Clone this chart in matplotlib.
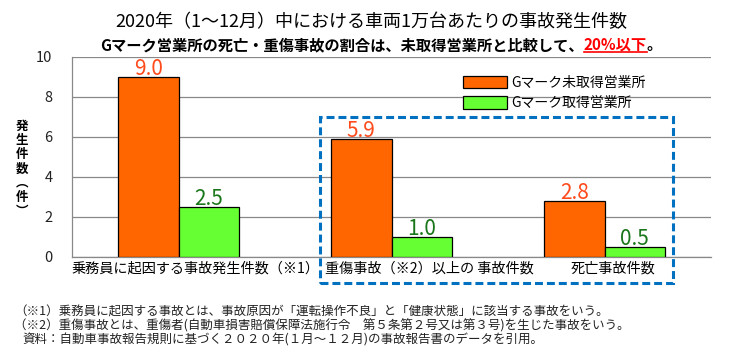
import matplotlib
matplotlib.use("Agg")
import numpy as np
import matplotlib.pyplot as plt
from matplotlib.patches import Rectangle
from matplotlib.lines import Line2D

plt.rcParams['font.family'] = ['Noto Sans CJK JP', 'DejaVu Sans']

## ===== Data ===== ##

categories = ["乗務員に起因する事故発生件数（※1）",
              "重傷事故（※2）以上の 事故件数",
              "死亡事故件数"]
no_gmark = [9.0, 5.9, 2.8]     # Gマーク未取得営業所
gmark = [2.5, 1.0, 0.5]        # Gマーク取得営業所
series_names = ["Gマーク未取得営業所", "Gマーク取得営業所"]
yticks = [0, 2, 4, 6, 8, 10]

title = "2020年（1～12月）中における車両1万台あたりの事故発生件数"
subtitle_a = "Gマーク営業所の死亡・重傷事故の割合は、未取得営業所と比較して、"
subtitle_b = "20%以下"
subtitle_c = "。"
ylabel = "発\n生\n件\n数\n︵\n件\n︶"
notes = ["（※1）乗務員に起因する事故とは、事故原因が「運転操作不良」と「健康状態」に該当する事故をいう。",
         "（※2）重傷事故とは、重傷者(自動車損害賠償保障法施行令　第５条第２号又は第３号)を生じた事故をいう。",
         "資料：自動車事故報告規則に基づく２０２０年(１月～１２月)の事故報告書のデータを引用。"]

## ================ ##

W, H = 734, 355
ORANGE = "#FF6600"
GREEN = "#66FF33"
GRID = "#888888"

fig = plt.figure(figsize=(W / 100, H / 100), dpi=100)
ax = fig.add_axes([72 / W, 1 - 257 / H, 639 / W, 200 / H])

x = np.arange(len(categories))
bw = 0.284
b1 = ax.bar(x - bw / 2, no_gmark, bw, color=ORANGE, edgecolor="black", linewidth=0.9,
            label=series_names[0], zorder=3)
b2 = ax.bar(x + bw / 2, gmark, bw, color=GREEN, edgecolor="black", linewidth=0.9,
            label=series_names[1], zorder=3)

for rect, v in zip(b1, no_gmark):
    ax.text(rect.get_x() + rect.get_width() / 2, v + 0.12, f"{v:.1f}", ha="center", va="baseline",
            fontsize=15, color="#FF4A1C")
for rect, v in zip(b2, gmark):
    ax.text(rect.get_x() + rect.get_width() / 2, v + 0.12, f"{v:.1f}", ha="center", va="baseline",
            fontsize=15, color="#1A761A")

ax.set_xlim(-0.5, len(categories) - 0.5)
ax.set_ylim(0, 10)
ax.set_yticks(yticks)
ax.set_yticklabels([str(t) for t in yticks], fontsize=10.5, color="#222222")
ax.tick_params(axis="y", length=0, pad=14)
ax.set_xticks([])
ax.yaxis.grid(True, color=GRID, linewidth=0.9, zorder=0)
for s in ["top", "right"]:
    ax.spines[s].set_visible(False)
ax.spines["left"].set_color(GRID)
ax.spines["bottom"].set_color(GRID)
ax.spines["left"].set_linewidth(0.9)
ax.spines["bottom"].set_linewidth(0.9)

# category labels
label_x = [0.193, 0.560, 0.847]
for lx, c in zip(label_x, categories):
    ax.text(lx, -0.055, c, transform=ax.transAxes, ha="center", va="center", fontsize=10.2)

# stacked y label
fig.text(22 / W, 1 - 169 / H, ylabel, ha="center", va="center", fontsize=9,
         fontweight="bold", linespacing=1.12)

# legend
ax.legend(loc="upper left", bbox_to_anchor=(463 / W, 1 - 76 / H), bbox_transform=fig.transFigure,
          frameon=False, fontsize=10, handlelength=3.2, handleheight=1.0, handletextpad=0.25,
          labelspacing=0.45, borderpad=0, borderaxespad=0)

# dashed highlight box
fig.patches.append(Rectangle((320 / W, 1 - 283 / H), 353 / W, 166 / H, transform=fig.transFigure,
                             fill=False, edgecolor="#0070C0", linewidth=2.2,
                             linestyle=(0, (2.6, 1.3)), zorder=5))

# titles
fig.text(371 / W, 1 - 22 / H, title, ha="center", va="center", fontsize=13)

fig.canvas.draw()
r = fig.canvas.get_renderer()
sx = 100 / W
sy = 1 - 45 / H
t1 = fig.text(sx, sy, subtitle_a, ha="left", va="center", fontsize=11, fontweight="bold")
e1 = t1.get_window_extent(r)
t2 = fig.text(e1.x1 / W, sy, subtitle_b, ha="left", va="center", fontsize=11,
              fontweight="bold", color="red")
e2 = t2.get_window_extent(r)
fig.text(e2.x1 / W, sy, subtitle_c, ha="left", va="center", fontsize=11, fontweight="bold")
uy = (e2.y0 + 1) / H
fig.add_artist(Line2D([e2.x0 / W, e2.x1 / W], [uy, uy], transform=fig.transFigure,
                      color="red", linewidth=1.2))

# footnotes
note_x = [14, 14, 22]
for i, n in enumerate(notes):
    fig.text(note_x[i] / W, 1 - (312 + 14 * i) / H, n, ha="left", va="center", fontsize=9,
             color="#222222")

fig.savefig("out.png", dpi=100)
